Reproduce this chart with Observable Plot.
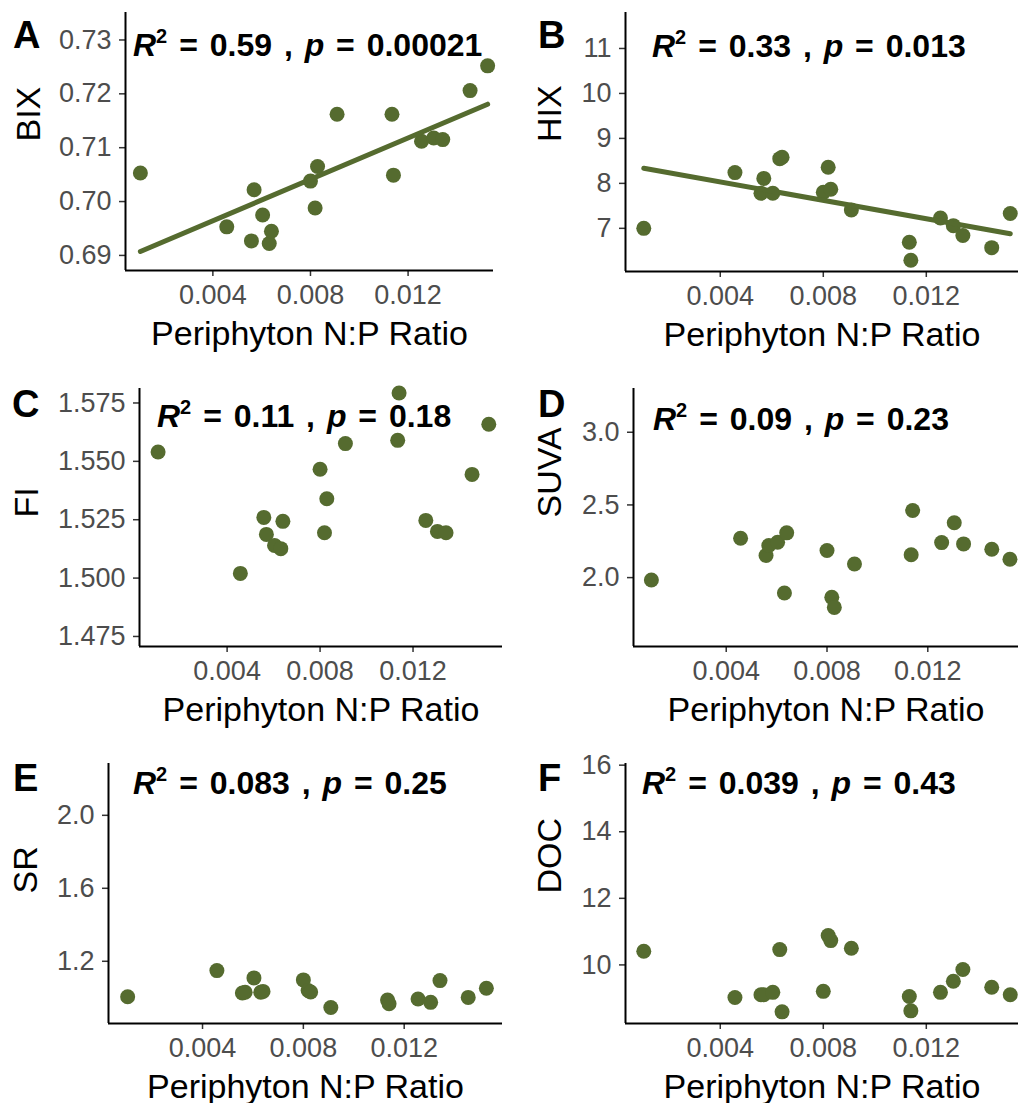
<!DOCTYPE html>
<html><head><meta charset="utf-8">
<script src="https://cdn.jsdelivr.net/npm/d3@7"></script>
<script src="https://cdn.jsdelivr.net/npm/@observablehq/plot@0.6"></script>
<style>
body{margin:0;background:#fff;}
#chart{position:relative;width:1018px;height:1103px;font-family:"Liberation Sans",Arial,sans-serif;background:#fff;}
.panel{position:absolute;}
</style></head><body><div id="chart"></div>
<script>
// ---- data ----
const npRatio = [0.00103, 0.00457, 0.00558, 0.00569, 0.00604, 0.00631, 0.00640, 0.00800, 0.00819, 0.00829, 0.00909, 0.01134, 0.01140, 0.01255, 0.01305, 0.01342, 0.01454, 0.01526];
const bix  = [0.7053, 0.6953, 0.6927, 0.7022, 0.6975, 0.6922, 0.6945, 0.7038, 0.6988, 0.7065, 0.7162, 0.7162, 0.7049, 0.7112, 0.7118, 0.7115, 0.7206, 0.7252];
const hix  = [7.00, 8.24, 7.78, 8.11, 7.78, 8.55, 8.58, 7.80, 8.36, 7.87, 7.41, 6.69, 6.29, 7.23, 7.06, 6.84, 6.57, 7.33];
const fi   = [1.554, 1.502, 1.526, 1.5187, 1.514, 1.5126, 1.5243, 1.5466, 1.5194, 1.534, 1.5576, 1.559, 1.5793, 1.5247, 1.520, 1.5194, 1.5444, 1.5659];
const suva = [1.984, 2.271, 2.152, 2.221, 2.243, 1.894, 2.308, 2.186, 1.864, 1.795, 2.094, 2.157, 2.462, 2.241, 2.377, 2.232, 2.195, 2.126];
const sr   = [1.006, 1.149, 1.026, 1.030, 1.109, 1.030, 1.035, 1.098, 1.040, 1.032, 0.947, 0.988, 0.967, 0.993, 0.975, 1.094, 1.002, 1.052];
const doc  = [10.41, 9.02, 9.105, 9.105, 9.175, 10.46, 8.59, 9.205, 10.88, 10.73, 10.50, 9.05, 8.62, 9.175, 9.51, 9.86, 9.33, 9.105];

const xTicks = [0.004, 0.008, 0.012];
const xTitle = "Periphyton N:P Ratio";
const panelLetters = ["A", "B", "C", "D", "E", "F"];
const yTitles = ["BIX", "HIX", "FI", "SUVA", "SR", "DOC"];
const r2Values = ["0.59", "0.33", "0.11", "0.09", "0.083", "0.039"];
const pValues = ["0.00021", "0.013", "0.18", "0.23", "0.25", "0.43"];
const showFit = [true, true, false, false, false, false];
const yTickValues = [
  [0.69, 0.70, 0.71, 0.72, 0.73],
  [7, 8, 9, 10, 11],
  [1.475, 1.500, 1.525, 1.550, 1.575],
  [2.0, 2.5, 3.0],
  [1.2, 1.6, 2.0],
  [10, 12, 14, 16]
];
const yTickFormats = [".2f", "d", ".3f", ".1f", ".1f", "d"];
const ySeries = [bix, hix, fi, suva, sr, doc];

// ---- layout (positions / sizes) ----
const layout = [
  {left: 0,   top: 0,   width: 509, height: 360, ml: 125, mt: 12, mr: 16, mb: 90, xDomain: [0.00042, 0.0155], yDomain: [0.6872, 0.7351], yTitleDx: -96, letterPos: [13, 48], statPos: [133, 56]},
  {left: 509, top: 0,   width: 509, height: 360, ml: 116, mt: 12, mr: 0,  mb: 89, xDomain: [0.00032, 0.01558], yDomain: [6.04, 11.8], yTitleDx: -75, letterPos: [29, 48], statPos: [143, 57]},
  {left: 0,   top: 360, width: 509, height: 370, ml: 139, mt: 28, mr: 7,  mb: 84, xDomain: [0.00023, 0.01585], yDomain: [1.4707, 1.5812], yTitleDx: -112, letterPos: [12, 57], statPos: [157, 67]},
  {left: 509, top: 360, width: 509, height: 370, ml: 124, mt: 28, mr: 0,  mb: 84, xDomain: [0.00032, 0.0156], yDomain: [1.526, 3.301], yTitleDx: -83, letterPos: [29, 57], statPos: [144, 70]},
  {left: 0,   top: 730, width: 509, height: 373, ml: 108, mt: 33, mr: 7,  mb: 80, xDomain: [0.00027, 0.0159], yDomain: [0.859, 2.284], yTitleDx: -82, letterPos: [13, 61], statPos: [133, 64]},
  {left: 509, top: 730, width: 509, height: 373, ml: 116, mt: 33, mr: 0,  mb: 80, xDomain: [0.00032, 0.01558], yDomain: [8.24, 16.05], yTitleDx: -75, letterPos: [29, 61], statPos: [133, 64]}
];

const green = "#556B2F";
const fontFamily = "'Liberation Sans', Arial, Helvetica, sans-serif";
const chart = document.getElementById("chart");

layout.forEach((L, i) => {
  const data = npRatio.map((x, j) => ({x, y: ySeries[i][j]}));
  const marks = [
    Plot.axisX({ticks: xTicks, tickFormat: d3.format(".3f"), tickSize: 6, tickPadding: 8, label: null,
      fontSize: 27, fill: "#4d4d4d", stroke: "#333333", strokeWidth: 1.5}),
    Plot.axisY({ticks: yTickValues[i], tickFormat: d3.format(yTickFormats[i]), tickSize: 6, tickPadding: 8, label: null,
      fontSize: 27, fill: "#4d4d4d", stroke: "#333333", strokeWidth: 1.5}),
    Plot.ruleX([L.xDomain[0]], {stroke: "black", strokeWidth: 2}),
    Plot.ruleY([L.yDomain[0]], {stroke: "black", strokeWidth: 2}),
    Plot.dot(data, {x: "x", y: "y", r: 7.5, fill: green, stroke: "none"}),
    showFit[i] ? Plot.linearRegressionY(data, {x: "x", y: "y", stroke: green, strokeWidth: 5, ci: 0}) : null,
    Plot.text([xTitle], {text: d => d, frameAnchor: "bottom", dy: 74, lineAnchor: "bottom", fontSize: 34, fill: "black"}),
    Plot.text([yTitles[i]], {text: d => d, frameAnchor: "left", dx: L.yTitleDx, rotate: -90, fontSize: 34, fill: "black"})
  ];
  const svgNode = Plot.plot({
    width: L.width, height: L.height,
    marginLeft: L.ml, marginTop: L.mt, marginRight: L.mr, marginBottom: L.mb,
    x: {type: "linear", domain: L.xDomain},
    y: {type: "linear", domain: L.yDomain},
    style: {fontFamily, fontSize: "27px", color: "#4d4d4d", background: "transparent", overflow: "visible"},
    marks
  });
  const div = document.createElement("div");
  div.className = "panel";
  div.style.left = L.left + "px";
  div.style.top = L.top + "px";
  div.appendChild(svgNode);
  chart.appendChild(div);

  const svg = d3.select(svgNode);
  // panel letter
  svg.append("text")
    .attr("x", L.letterPos[0]).attr("y", L.letterPos[1])
    .attr("text-anchor", "start")
    .attr("font-family", fontFamily).attr("font-size", 38).attr("font-weight", "bold").attr("fill", "black")
    .text(panelLetters[i]);
  // statistics annotation
  const t = svg.append("text")
    .attr("x", L.statPos[0]).attr("y", L.statPos[1])
    .attr("text-anchor", "start")
    .attr("font-family", fontFamily).attr("font-size", 32).attr("font-weight", "bold").attr("fill", "black")
    .style("white-space", "pre").style("word-spacing", "3px");
  t.append("tspan").attr("font-style", "italic").text("R");
  t.append("tspan").attr("font-size", 20).attr("dy", -13).text("2");
  t.append("tspan").attr("dy", 13).text(" = " + r2Values[i] + " , ");
  t.append("tspan").attr("font-style", "italic").text("p");
  t.append("tspan").text(" = " + pValues[i]);
});
</script></body></html>
